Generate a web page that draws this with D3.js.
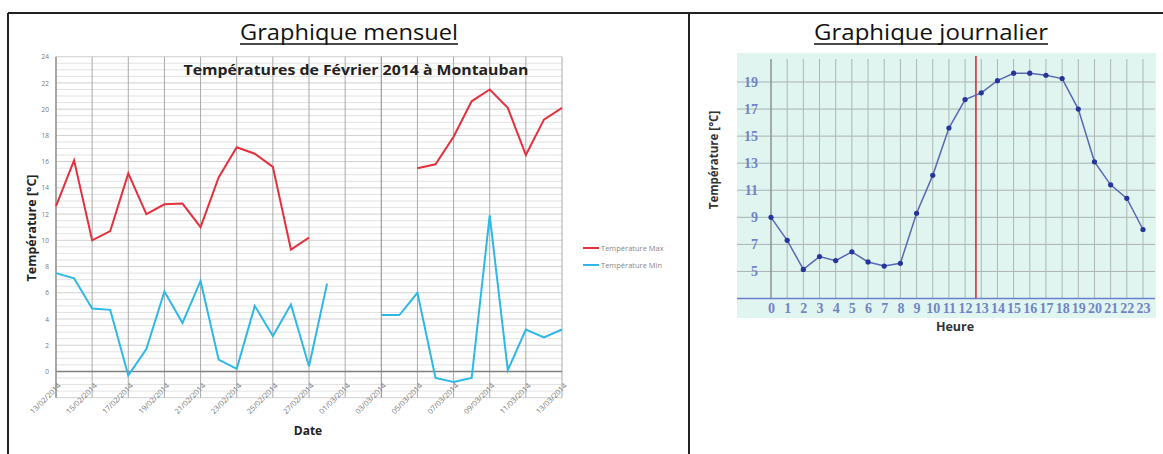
<!DOCTYPE html>
<html>
<head>
<meta charset="utf-8">
<script src="https://cdn.jsdelivr.net/npm/d3@7/dist/d3.min.js"></script>
<style>
  body { margin: 0; background: #fff; }
  svg { display: block; }
  text { font-family: "Open Sans", "Liberation Sans", sans-serif; }
</style>
</head>
<body>
<div id="chart"></div>
<script>
// monthly chart : one value per day, 13/02/2014 -> 13/03/2014 (null = no reading)
const firstDay = "13/02/2014";
const lastDay = "13/03/2014";
const maxTemps = [12.6, 16.1, 10.0, 10.7, 15.1, 12.0, 12.75, 12.8, 11.0, 14.8, 17.1, 16.6, 15.6, 9.3, 10.2,
  null, null, null, null, null, 15.5, 15.8, 17.9, 20.6, 21.5, 20.1, 16.5, 19.2, 20.1];
const minTemps = [7.5, 7.1, 4.8, 4.7, -0.3, 1.7, 6.1, 3.7, 6.9, 0.9, 0.2, 5.0, 2.7, 5.1, 0.4,
  6.7, null, null, 4.3, 4.3, 6.0, -0.5, -0.8, -0.5, 11.9, 0.1, 3.2, 2.6, 3.2];
const dateTicks = ["13/02/2014", "15/02/2014", "17/02/2014", "19/02/2014", "21/02/2014", "23/02/2014",
  "25/02/2014", "27/02/2014", "01/03/2014", "03/03/2014", "05/03/2014", "07/03/2014", "09/03/2014",
  "11/03/2014", "13/03/2014"];
const monthTicks = [0, 2, 4, 6, 8, 10, 12, 14, 16, 18, 20, 22, 24];
const seriesNames = ["Température Max", "Température Min"];

// daily chart : one value per hour
const hours = d3.range(0, 24);
const hourTemps = [9.0, 7.3, 5.15, 6.1, 5.8, 6.45, 5.7, 5.4, 5.6, 9.3, 12.1, 15.6, 17.7, 18.2,
  19.1, 19.65, 19.65, 19.5, 19.25, 17.0, 13.1, 11.4, 10.4, 8.1];
const dayTicks = [5, 7, 9, 11, 13, 15, 17, 19];
const nowHour = 12.67;

const W = 1163, H = 454;
const svg = d3.select("#chart").append("svg").attr("width", W).attr("height", H);

// table borders
svg.append("line").attr("x1", 8).attr("x2", W).attr("y1", 13).attr("y2", 13)
  .attr("stroke", "#222").attr("stroke-width", 2);
svg.append("line").attr("x1", 8).attr("x2", 8).attr("y1", 13).attr("y2", H)
  .attr("stroke", "#222").attr("stroke-width", 2);
svg.append("line").attr("x1", 689).attr("x2", 689).attr("y1", 13).attr("y2", H)
  .attr("stroke", "#222").attr("stroke-width", 2);

function heading(txt, cx, width) {
  svg.append("text").attr("x", cx).attr("y", 40).attr("text-anchor", "middle")
    .attr("font-size", 21).attr("fill", "#111")
    .attr("textLength", width).attr("lengthAdjust", "spacingAndGlyphs").text(txt);
  svg.append("line").attr("x1", cx - width / 2).attr("x2", cx + width / 2).attr("y1", 44).attr("y2", 44)
    .attr("stroke", "#111").attr("stroke-width", 1.4);
}
heading("Graphique mensuel", 349, 218);
heading("Graphique journalier", 931, 234);

// ---------- monthly chart ----------
const parseDate = d3.timeParse("%d/%m/%Y");
const days = d3.timeDay.range(parseDate(firstDay), d3.timeDay.offset(parseDate(lastDay), 1));

const x = d3.scaleTime().domain([parseDate(firstDay), parseDate(lastDay)]).range([56, 562]);
const y = d3.scaleLinear().domain([-2, 24]).range([397.7, 56.7]);

const g = svg.append("g");

// minor horizontal grid
g.selectAll(".hminor").data(d3.range(-2, 24.01, 0.5)).enter().append("line")
  .attr("x1", 56).attr("x2", 562)
  .attr("y1", d => y(d)).attr("y2", d => y(d))
  .attr("stroke", d => d % 2 === 0 ? "#c4c4c4" : "#dadada").attr("stroke-width", 0.8);

// vertical grid on date ticks
g.selectAll(".vgrid").data(dateTicks).enter().append("line")
  .attr("x1", d => x(parseDate(d))).attr("x2", d => x(parseDate(d)))
  .attr("y1", y(24)).attr("y2", y(-2))
  .attr("stroke", (d, i) => i === 9 ? "#888" : "#aaa").attr("stroke-width", 1);

// zero line and y axis line
g.append("line").attr("x1", 56).attr("x2", 562).attr("y1", y(0)).attr("y2", y(0))
  .attr("stroke", "#808080").attr("stroke-width", 1.5);
g.append("line").attr("x1", 56).attr("x2", 56).attr("y1", y(24)).attr("y2", y(-2))
  .attr("stroke", "#909090").attr("stroke-width", 1.3);

const yAxis = d3.axisLeft(y).tickValues(monthTicks).tickSize(0).tickPadding(7);
g.append("g").attr("transform", "translate(56,0)").call(yAxis)
  .call(a => a.select(".domain").remove())
  .selectAll("text").attr("font-size", 6.5).attr("fill", "#777");

const xAxis = d3.axisBottom(x).tickValues(dateTicks.map(parseDate))
  .tickFormat(d3.timeFormat("%d/%m/%Y")).tickSize(0);
g.append("g").attr("transform", "translate(0," + y(0) + ")").call(xAxis)
  .call(a => a.select(".domain").remove())
  .selectAll("text")
  .attr("font-size", 7.5).attr("fill", "#777")
  .attr("text-anchor", "end")
  .attr("transform", "translate(3,13) rotate(-45)")
  .attr("dy", "0.35em").attr("y", 0).attr("x", 0);

const line = d3.line()
  .defined(d => d[1] !== null)
  .x(d => x(d[0]))
  .y(d => y(d[1]));

g.append("path").datum(days.map((d, i) => [d, maxTemps[i]]))
  .attr("d", line).attr("fill", "none").attr("stroke", "#e5303e").attr("stroke-width", 2);
g.append("path").datum(days.map((d, i) => [d, minTemps[i]]))
  .attr("d", line).attr("fill", "none").attr("stroke", "#2db8e6").attr("stroke-width", 2);

g.append("text").attr("x", 356).attr("y", 75).attr("text-anchor", "middle")
  .attr("font-size", 15).attr("font-weight", "bold").attr("fill", "#222")
  .attr("textLength", 345).attr("lengthAdjust", "spacingAndGlyphs")
  .text("Températures de Février 2014 à Montauban");

g.append("text").attr("transform", "translate(36,228) rotate(-90)").attr("text-anchor", "middle")
  .attr("font-size", 12.5).attr("font-weight", "bold").attr("fill", "#222")
  .text("Température [°C]");
g.append("text").attr("x", 308).attr("y", 435).attr("text-anchor", "middle")
  .attr("font-size", 12).attr("font-weight", "bold").attr("fill", "#222").text("Date");

// legend
const legend = g.selectAll(".legend").data(seriesNames).enter().append("g")
  .attr("transform", (d, i) => "translate(583," + (248 + i * 17) + ")");
legend.append("line").attr("x1", 0).attr("x2", 16).attr("y1", 0).attr("y2", 0)
  .attr("stroke", (d, i) => i === 0 ? "#e5303e" : "#2db8e6").attr("stroke-width", 2);
legend.append("text").attr("x", 18).attr("y", 2.5).attr("font-size", 7.5).attr("fill", "#888").text(d => d);

// ---------- daily chart ----------
const hx = d3.scaleLinear().domain([0, 23]).range([771, 1143]);
const hy = d3.scaleLinear().domain([3, 19]).range([298.5, 82]);

const h = svg.append("g");
h.append("rect").attr("x", 737).attr("y", 53).attr("width", 419).attr("height", 265).attr("fill", "#e0f5f0");

h.selectAll(".hh").data(dayTicks).enter().append("line")
  .attr("x1", 737).attr("x2", 1155)
  .attr("y1", d => hy(d)).attr("y2", d => hy(d))
  .attr("stroke", "#a9b3b1").attr("stroke-width", 1);
h.selectAll(".hv").data(hours).enter().append("line")
  .attr("x1", d => hx(d)).attr("x2", d => hx(d))
  .attr("y1", 59).attr("y2", hy(3))
  .attr("stroke", d => d === 0 ? "#8a9391" : "#adb6b4").attr("stroke-width", d => d === 0 ? 1.5 : 1);

h.append("line").attr("x1", 737).attr("x2", 1155).attr("y1", hy(3)).attr("y2", hy(3))
  .attr("stroke", "#6a80cc").attr("stroke-width", 1.6);

h.append("line").attr("x1", hx(nowHour)).attr("x2", hx(nowHour)).attr("y1", 56).attr("y2", hy(3))
  .attr("stroke", "#cc3333").attr("stroke-width", 1.6);

h.append("g").attr("transform", "translate(0," + hy(3) + ")")
  .call(d3.axisBottom(hx).tickValues(hours).tickSize(0).tickPadding(5))
  .call(a => a.select(".domain").remove())
  .selectAll("text").style("font-family", "'Liberation Serif', serif")
  .attr("font-size", 14).attr("font-weight", "bold").attr("fill", "#7284c6");

h.append("g").attr("transform", "translate(758,0)")
  .call(d3.axisLeft(hy).tickValues(dayTicks).tickSize(0).tickPadding(0))
  .call(a => a.select(".domain").remove())
  .selectAll("text").style("font-family", "'Liberation Serif', serif")
  .attr("font-size", 14).attr("font-weight", "bold").attr("fill", "#7284c6");

h.append("path").datum(hours.map((d, i) => [d, hourTemps[i]]))
  .attr("d", d3.line().x(d => hx(d[0])).y(d => hy(d[1])))
  .attr("fill", "none").attr("stroke", "#5868b4").attr("stroke-width", 1.5);
h.selectAll(".dot").data(hourTemps).enter().append("circle")
  .attr("cx", (d, i) => hx(hours[i])).attr("cy", d => hy(d)).attr("r", 2.6)
  .attr("fill", "#26359c");

h.append("text").attr("transform", "translate(718,160) rotate(-90)").attr("text-anchor", "middle")
  .attr("font-size", 11.5).attr("font-weight", "bold").attr("fill", "#333").text("Température [°C]");
h.append("text").attr("x", 955).attr("y", 331).attr("text-anchor", "middle")
  .attr("font-size", 12.5).attr("font-weight", "bold").attr("fill", "#333").text("Heure");
</script>
</body>
</html>
